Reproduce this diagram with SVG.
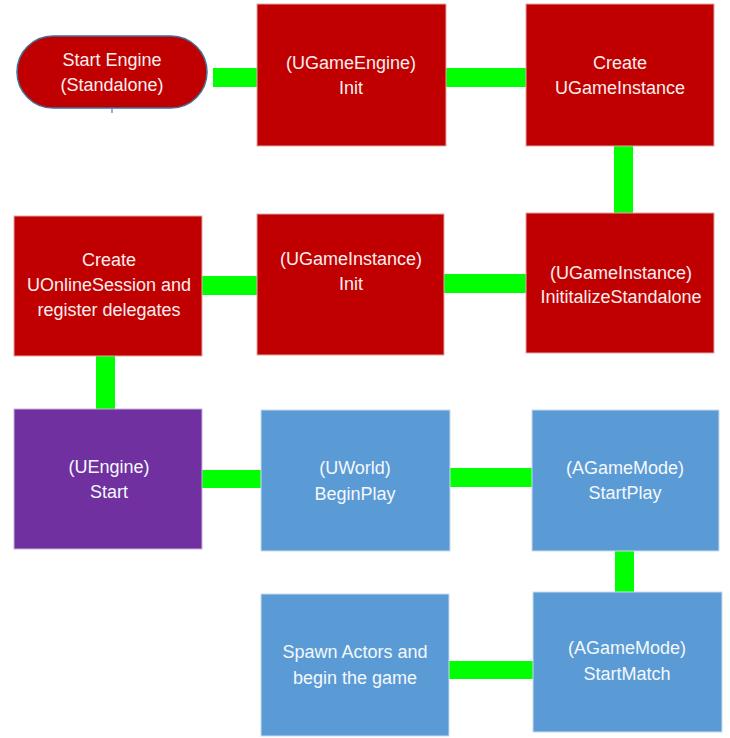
<svg xmlns="http://www.w3.org/2000/svg" width="730" height="738" viewBox="0 0 730 738">
<style>
.red{fill:#c00000;stroke:#e0a8a8;stroke-width:1}
.blue{fill:#5b9bd5;stroke:#c9dbee;stroke-width:1}
.purple{fill:#7030a0;stroke:#c7b0da;stroke-width:1}
.pill{fill:#c00000;stroke:#41719c;stroke-width:1.5}
.link{fill:#00ff00}
text{font-family:"Liberation Sans","Noto Sans",Arial,sans-serif;font-size:18px;text-anchor:middle;fill:#fbeeee}
.lt text{fill:#f4f8fc}
</style>
<rect width="730" height="738" fill="#ffffff"/>
<g id="connectors">
<rect class="link" x="213" y="68" width="44" height="19"/>
<rect class="link" x="446" y="68" width="80" height="19"/>
<rect class="link" x="614" y="146" width="19" height="67"/>
<rect class="link" x="444" y="274" width="82" height="19"/>
<rect class="link" x="202" y="276" width="55" height="19"/>
<rect class="link" x="96" y="356" width="19" height="53"/>
<rect class="link" x="202" y="470" width="59" height="18"/>
<rect class="link" x="450" y="468" width="82" height="19"/>
<rect class="link" x="615" y="551" width="19" height="41"/>
<rect class="link" x="449" y="661" width="84" height="18"/>
</g>
<g id="start-engine">
<rect class="pill" x="17" y="36" width="190" height="72" rx="36" ry="36"/>
<line x1="112" y1="108" x2="112" y2="113" stroke="#5b9bd5" stroke-width="1.5"/>
<text x="112" y="66">Start Engine</text>
<text x="112" y="91">(Standalone)</text>
</g>
<g id="ugameengine-init">
<rect class="red" x="257" y="4" width="189" height="142"/>
<text x="351" y="69">(UGameEngine)</text>
<text x="351" y="94">Init</text>
</g>
<g id="create-ugameinstance">
<rect class="red" x="526" y="4" width="188" height="142"/>
<text x="620" y="69">Create</text>
<text x="620" y="94">UGameInstance</text>
</g>
<g id="ugameinstance-initstandalone">
<rect class="red" x="526" y="213" width="188" height="140"/>
<text x="621" y="279">(UGameInstance)</text>
<text x="621" y="303">InititalizeStandalone</text>
</g>
<g id="ugameinstance-init">
<rect class="red" x="257" y="214" width="187" height="141"/>
<text x="351" y="265">(UGameInstance)</text>
<text x="351" y="290">Init</text>
</g>
<g id="create-uonlinesession">
<rect class="red" x="14" y="216" width="188" height="140"/>
<text x="109" y="266">Create</text>
<text x="109" y="291">UOnlineSession and</text>
<text x="109" y="316">register delegates</text>
</g>
<g id="uengine-start" class="lt">
<rect class="purple" x="14" y="409" width="188" height="140"/>
<text x="109" y="473">(UEngine)</text>
<text x="109" y="498">Start</text>
</g>
<g id="uworld-beginplay" class="lt">
<rect class="blue" x="261" y="410" width="189" height="141"/>
<text x="355" y="474">(UWorld)</text>
<text x="355" y="500">BeginPlay</text>
</g>
<g id="agamemode-startplay" class="lt">
<rect class="blue" x="532" y="410" width="187" height="141"/>
<text x="625" y="474">(AGameMode)</text>
<text x="625" y="499">StartPlay</text>
</g>
<g id="agamemode-startmatch" class="lt">
<rect class="blue" x="533" y="592" width="189" height="140"/>
<text x="627" y="654">(AGameMode)</text>
<text x="627" y="680">StartMatch</text>
</g>
<g id="spawn-actors" class="lt">
<rect class="blue" x="261" y="594" width="188" height="142"/>
<text x="355" y="658">Spawn Actors and</text>
<text x="355" y="684">begin the game</text>
</g>
</svg>
